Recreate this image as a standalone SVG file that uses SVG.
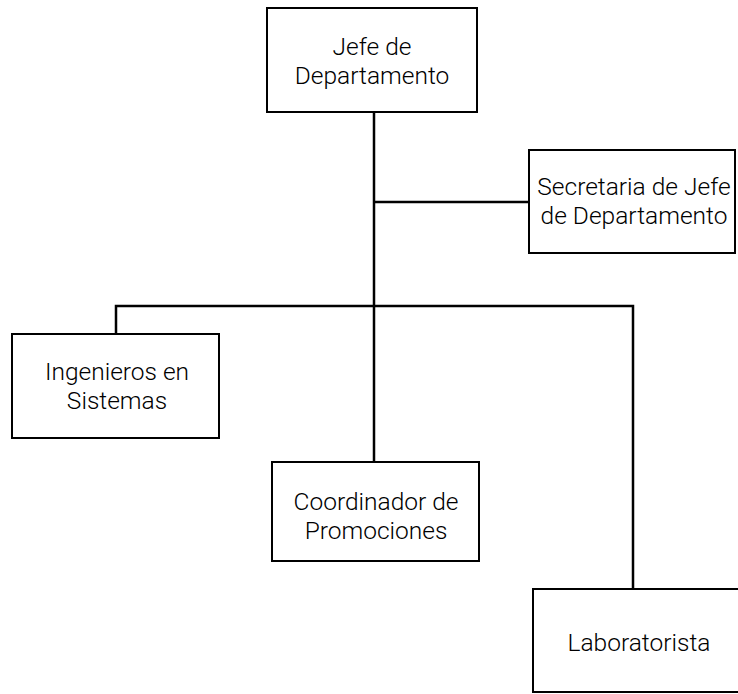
<svg xmlns="http://www.w3.org/2000/svg" width="738" height="694" viewBox="0 0 738 694">
<style>
.box{fill:#fff;stroke:#000;stroke-width:2}
.ln{stroke:#000;stroke-width:2.5;fill:none}
text{font-family:Roboto,"Liberation Sans",sans-serif;font-size:24.5px;font-weight:300;fill:#000;text-anchor:middle}
</style>
<rect width="738" height="694" fill="#fff"/>
<g id="connectors">
<line class="ln" x1="374" y1="112" x2="374" y2="462"/>
<line class="ln" x1="374" y1="202" x2="529" y2="202"/>
<polyline class="ln" points="116,334 116,306 633,306 633,589"/>
</g>
<g id="jefe">
<rect class="box" x="267" y="8" width="210" height="104"/>
<text x="372" y="55">Jefe de</text>
<text x="372" y="84">Departamento</text>
</g>
<g id="secretaria">
<rect class="box" x="529" y="150" width="206" height="103"/>
<text x="634" y="195">Secretaria de Jefe</text>
<text x="634" y="224">de Departamento</text>
</g>
<g id="ingenieros">
<rect class="box" x="12" y="334" width="207" height="104"/>
<text x="117" y="380">Ingenieros en</text>
<text x="117" y="409">Sistemas</text>
</g>
<g id="coordinador">
<rect class="box" x="272" y="462" width="207" height="99"/>
<text x="376" y="510">Coordinador de</text>
<text x="376" y="539">Promociones</text>
</g>
<g id="laboratorista">
<rect class="box" x="533" y="589" width="210" height="103"/>
<text x="639" y="651">Laboratorista</text>
</g>
</svg>
